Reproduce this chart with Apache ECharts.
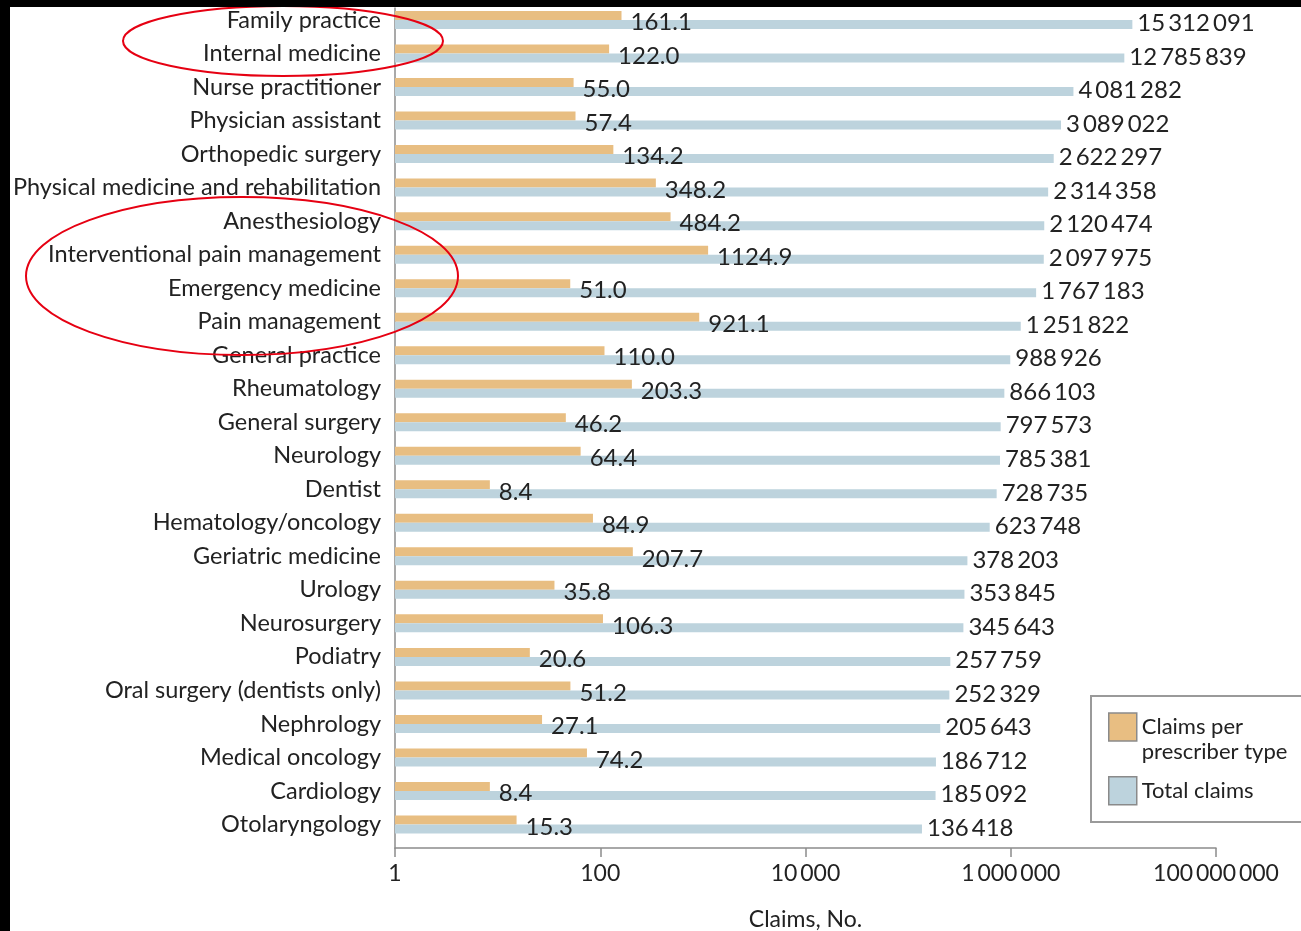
<!DOCTYPE html>
<html>
<head>
<meta charset="utf-8">
<title>Opioid claims by prescriber type</title>
<script src="https://cdn.jsdelivr.net/npm/echarts@6/dist/echarts.min.js"></script>
<style>
  html, body { margin: 0; padding: 0; background: #fff; }
  #chart { width: 1301px; height: 931px; }
</style>
</head>
<body>
<div id="chart"></div>
<script>
// Prescriber types, top to bottom
const categories = [
  'Family practice', 'Internal medicine', 'Nurse practitioner', 'Physician assistant',
  'Orthopedic surgery', 'Physical medicine and rehabilitation', 'Anesthesiology',
  'Interventional pain management', 'Emergency medicine', 'Pain management',
  'General practice', 'Rheumatology', 'General surgery', 'Neurology', 'Dentist',
  'Hematology/oncology', 'Geriatric medicine', 'Urology', 'Neurosurgery', 'Podiatry',
  'Oral surgery (dentists only)', 'Nephrology', 'Medical oncology', 'Cardiology',
  'Otolaryngology'
];

// Claims per prescriber of each type
const claimsPerPrescriber = [
  161.1, 122.0, 55.0, 57.4, 134.2, 348.2, 484.2, 1124.9, 51.0, 921.1,
  110.0, 203.3, 46.2, 64.4, 8.4, 84.9, 207.7, 35.8, 106.3, 20.6,
  51.2, 27.1, 74.2, 8.4, 15.3
];

// Total claims for each prescriber type
const totalClaims = [
  15312091, 12785839, 4081282, 3089022, 2622297, 2314358, 2120474, 2097975, 1767183, 1251822,
  988926, 866103, 797573, 785381, 728735, 623748, 378203, 353845, 345643, 257759,
  252329, 205643, 186712, 185092, 136418
];

// Log-axis tick values
const axisTicks = [1, 100, 10000, 1000000, 100000000];

const seriesNames = ['Claims per\nprescriber type', 'Total claims'];

const FONT = 'Lato, "Liberation Sans", sans-serif';
const TEXT = '#222222';
const ORANGE = '#E8BE82';
const BLUE = '#BDD3DD';
const AXIS = '#8c8c8c';

function groupDigits(n) {
  return String(Math.round(n)).replace(/\B(?=(\d{3})+(?!\d))/g, '\u2009');
}

const logAxisBase = {
  type: 'log',
  logBase: 10,
  min: axisTicks[0],
  max: axisTicks[axisTicks.length - 1],
  splitLine: { show: false }
};

const chart = echarts.init(document.getElementById('chart'), null, { renderer: 'canvas' });

chart.setOption({
  animation: false,
  backgroundColor: '#ffffff',
  textStyle: { fontFamily: FONT, color: TEXT },
  grid: [
    // bars
    { left: 395, right: 85, top: 3.25, height: 838, containLabel: false, outerBoundsMode: 'none' },
    // frame axes
    { left: 395, right: 85, top: 8, bottom: 83, containLabel: false, outerBoundsMode: 'none' }
  ],
  xAxis: [
    Object.assign({}, logAxisBase, { gridIndex: 0, show: false }),
    Object.assign({}, logAxisBase, {
      gridIndex: 1,
      axisLine: { show: true, lineStyle: { color: AXIS, width: 1.5 } },
      axisTick: { show: true, length: 9, customValues: axisTicks, lineStyle: { color: AXIS, width: 1.5 } },
      minorTick: { show: false },
      axisLabel: {
        color: TEXT, fontSize: 23, fontFamily: FONT, margin: 14,
        customValues: axisTicks,
        formatter: v => groupDigits(v)
      },
      name: 'Claims, No.',
      nameLocation: 'middle',
      nameGap: 60,
      nameTextStyle: { color: TEXT, fontSize: 23, fontFamily: FONT }
    })
  ],
  yAxis: [
    {
      gridIndex: 0,
      type: 'category',
      data: categories,
      inverse: true,
      axisLine: { show: false },
      axisTick: { show: false },
      axisLabel: { color: TEXT, fontSize: 23.5, fontFamily: FONT, margin: 14 }
    },
    {
      gridIndex: 1,
      type: 'value',
      axisLine: { show: true, lineStyle: { color: AXIS, width: 1.5 } },
      axisTick: { show: false },
      axisLabel: { show: false },
      splitLine: { show: false }
    }
  ],
  legend: {
    left: 1108,
    top: 689.5,
    orient: 'vertical',
    itemWidth: 28,
    itemHeight: 28,
    itemGap: 11.5,
    padding: 0,
    icon: 'rect',
    itemStyle: { borderColor: '#8a8a8a', borderWidth: 1.5 },
    textStyle: { color: TEXT, fontSize: 22, fontFamily: FONT, lineHeight: 25 },
    // first entry hangs its second line below the swatch
    formatter: name => (name === seriesNames[0] ? '\n' + name : name),
    data: seriesNames
  },
  series: [
    {
      name: seriesNames[0],
      type: 'bar',
      xAxisIndex: 0,
      yAxisIndex: 0,
      data: claimsPerPrescriber,
      barWidth: 9,
      barGap: '0%',
      itemStyle: { color: ORANGE },
      label: {
        show: true,
        position: 'right',
        distance: 9,
        offset: [0, 7],
        color: TEXT,
        fontSize: 24,
        fontFamily: FONT,
        formatter: p => p.value.toFixed(1)
      }
    },
    {
      name: seriesNames[1],
      type: 'bar',
      xAxisIndex: 0,
      yAxisIndex: 0,
      data: totalClaims,
      barWidth: 9,
      barGap: '0%',
      itemStyle: { color: BLUE },
      label: {
        show: true,
        position: 'right',
        distance: 5,
        offset: [0, -1],
        color: TEXT,
        fontSize: 24,
        fontFamily: FONT,
        formatter: p => groupDigits(p.value)
      }
    }
  ],
  graphic: [
    // legend frame
    {
      type: 'rect', z: -1,
      shape: { x: 1091, y: 696, width: 240, height: 126 },
      style: { fill: '#ffffff', stroke: '#9a9a9a', lineWidth: 2 }
    },
    // highlight rings
    {
      type: 'ellipse', z: 100,
      shape: { cx: 283, cy: 41, rx: 160, ry: 35 },
      style: { fill: 'none', stroke: '#e60012', lineWidth: 2 }
    },
    {
      type: 'ellipse', z: 100,
      shape: { cx: 242, cy: 276, rx: 216, ry: 79 },
      style: { fill: 'none', stroke: '#e60012', lineWidth: 2 }
    },
    // dark frame edges
    { type: 'rect', z: 101, shape: { x: 0, y: 0, width: 1301, height: 7 }, style: { fill: '#000' } },
    { type: 'rect', z: 101, shape: { x: 0, y: 0, width: 10, height: 931 }, style: { fill: '#000' } }
  ]
});
</script>
</body>
</html>
